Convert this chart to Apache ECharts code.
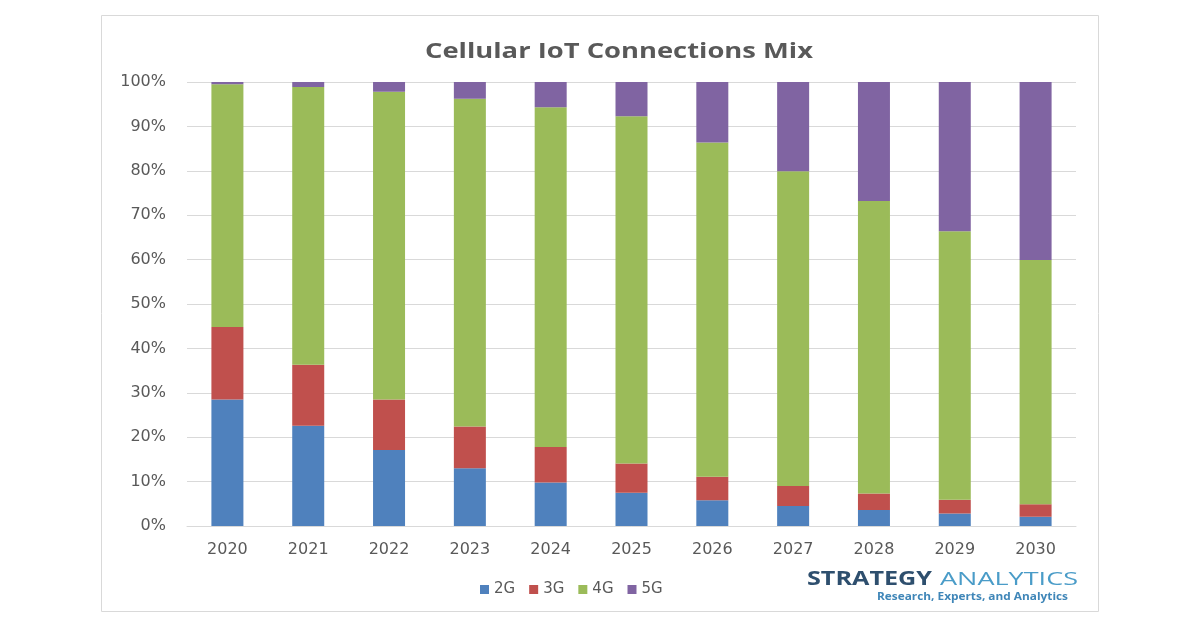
<!DOCTYPE html>
<html>
<head>
<meta charset="utf-8">
<script src="https://cdn.jsdelivr.net/npm/echarts@6/dist/echarts.min.js"></script>
<style>
html,body{margin:0;padding:0;background:#fff;}
#chart{width:1200px;height:627px;}
</style>
</head>
<body>
<div id="chart"></div>
<script>
const categories = ['2020','2021','2022','2023','2024','2025','2026','2027','2028','2029','2030'];
const series2G = [28.5, 22.6, 17.1, 13.0, 9.8, 7.5, 5.8, 4.5, 3.6, 2.8, 2.1];
const series3G = [16.3, 13.7, 11.4, 9.4, 8.0, 6.6, 5.3, 4.5, 3.7, 3.1, 2.8];
const series4G = [54.7, 62.6, 69.3, 73.8, 76.5, 78.2, 75.3, 70.9, 65.9, 60.5, 55.0];
const series5G = [0.5, 1.1, 2.2, 3.8, 5.7, 7.7, 13.6, 20.1, 26.8, 33.6, 40.1];
const seriesNames = ['2G','3G','4G','5G'];
const colors = ['#4f81bd','#c0504d','#9bbb59','#8064a2'];
const titleText = 'Cellular IoT Connections Mix';
const logoMain = 'STRATEGY';
const logoSecond = 'ANALYTICS';
const logoTagline = 'Research, Experts, and Analytics';

const FONT = '"DejaVu Sans", "Open Sans", sans-serif';
const TFONT = '"Open Sans", "DejaVu Sans", sans-serif';

const ctx = document.createElement('canvas').getContext('2d');
function measure(text, font) { ctx.font = font; return ctx.measureText(text).width; }

// text stretched horizontally to fit a target width (reference is a horizontally stretched image)
function fitted(text, x, y, size, weight, color, targetW, family, align) {
  const w = measure(text, weight + ' ' + size + 'px ' + family);
  return {type: 'text', x: x, y: y, scaleX: targetW / w, silent: true,
    style: {text: text, fontFamily: family, fontSize: size, fontWeight: weight, fill: color,
            textAlign: align, align: align, textVerticalAlign: 'middle', verticalAlign: 'middle'}};
}

const chart = echarts.init(document.getElementById('chart'));
const data = [series2G, series3G, series4G, series5G];
chart.setOption({
  animation: false,
  color: colors,
  legend: {
    data: seriesNames,
    left: 475, top: 577,
    itemWidth: 9, itemHeight: 9, itemGap: 14,
    icon: 'rect',
    textStyle: {fontFamily: FONT, fontSize: 15, color: '#595959'}
  },
  grid: {left: 187, right: 124, top: 82, bottom: 101},
  xAxis: {
    type: 'category',
    data: categories,
    axisLine: {lineStyle: {color: '#d9d9d9', width: 1}},
    axisTick: {show: false},
    axisLabel: {fontFamily: FONT, fontSize: 16, color: '#595959', margin: 16}
  },
  yAxis: {
    type: 'value',
    min: 0, max: 100, interval: 10,
    axisLine: {show: false},
    axisTick: {show: false},
    splitLine: {lineStyle: {color: '#d9d9d9', width: 1}},
    axisLabel: {formatter: '{value}%', fontFamily: FONT, fontSize: 16, color: '#595959', margin: 21}
  },
  graphic: [
    {type: 'rect', shape: {x: 101.5, y: 15.5, width: 997, height: 596},
     style: {fill: 'none', stroke: '#d9d9d9', lineWidth: 1}, silent: true, z: -10},
    fitted(titleText, 619, 52, 21, 'bold', '#595959', 388, TFONT, 'center'),
    fitted(logoMain, 807, 580, 19, 'bold', '#2e4f6e', 125, TFONT, 'left'),
    fitted(logoSecond, 940, 580, 19, 'normal', '#4a9cc8', 138, TFONT, 'left'),
    fitted(logoTagline, 1068, 597, 11, 'bold', '#3f86b8', 191, TFONT, 'right')
  ],
  series: seriesNames.map((n, i) => ({
    name: n,
    type: 'bar',
    stack: 'total',
    barWidth: 32,
    data: data[i]
  }))
});
</script>
</body>
</html>
